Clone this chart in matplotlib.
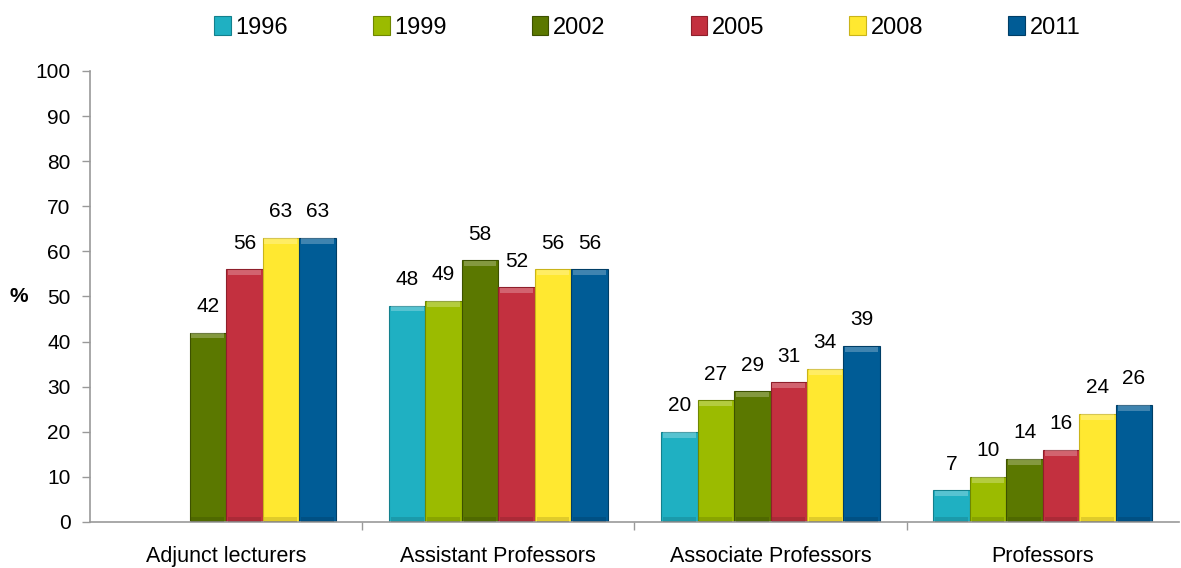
import matplotlib

matplotlib.use("Agg")
import matplotlib.pyplot as plt
import numpy as np
from matplotlib.patches import Patch

CATEGORIES = ["Adjunct lecturers", "Assistant Professors", "Associate Professors", "Professors"]
YEARS = ["1996", "1999", "2002", "2005", "2008", "2011"]
V1996 = [np.nan, 48, 20, 7]
V1999 = [np.nan, 49, 27, 10]
V2002 = [42, 58, 29, 14]
V2005 = [56, 52, 31, 16]
V2008 = [63, 56, 34, 24]
V2011 = [63, 56, 39, 26]
COLORS = ["#1fb0c2", "#9bbb00", "#5b7800", "#c3303f", "#ffe830", "#005c96"]
EDGES = ["#13808d", "#6f8700", "#3d5100", "#8e1f2b", "#c9b41a", "#003e66"]

plt.rcParams["font.family"] = ["Liberation Sans", "DejaVu Sans"]

series = [V1996, V1999, V2002, V2005, V2008, V2011]

fig = plt.figure(figsize=(11.81, 5.68), dpi=100)
ax = fig.add_axes([0.0762, 0.081, 0.922, 0.794])

x = np.arange(len(CATEGORIES))
width = 0.134
for i, (vals, col, ec) in enumerate(zip(series, COLORS, EDGES)):
    pos = x + (i - 2.5) * width
    vals = np.array(vals, dtype=float)
    bars = ax.bar(pos, vals, width, color=col, edgecolor=ec, linewidth=0.8, zorder=2)
    for b, v in zip(bars, vals):
        if np.isnan(v):
            continue
        cx = b.get_x() + b.get_width() / 2
        # light top cap and dark foot for a bevel look
        ax.bar(cx, 1.2, width * 0.9, bottom=v - 1.3, color="white", alpha=0.25,
               linewidth=0, zorder=3)
        ax.bar(cx, 1.0, width * 0.9, bottom=0.1, color="black", alpha=0.12,
               linewidth=0, zorder=3)
        ax.annotate(f"{v:.0f}", (cx, v), xytext=(0, 12), textcoords="offset points",
                    ha="center", va="bottom", fontsize=15)

ax.set_xlim(-0.5, 3.5)
ax.set_ylim(0, 100)
ax.set_yticks(np.arange(0, 101, 10))
ax.set_xticks([0.5, 1.5, 2.5])
ax.set_xticklabels([])
for xi, lab in zip(x, CATEGORIES):
    ax.text(xi, -7.6, lab, ha="center", va="center", fontsize=15.5)
ax.tick_params(axis="y", labelsize=15, color="#999999", length=6, width=1, pad=8)
ax.tick_params(axis="x", color="#999999", length=6, width=1)
for s in ["top", "right"]:
    ax.spines[s].set_visible(False)
for s in ["left", "bottom"]:
    ax.spines[s].set_color("#999999")
    ax.spines[s].set_linewidth(1.2)
ax.set_ylabel("%", rotation=0, fontsize=15, fontweight="bold", labelpad=12, va="center")

handles = [Patch(facecolor=c, edgecolor=e, linewidth=0.8) for c, e in zip(COLORS, EDGES)]
fig.legend(handles, YEARS, loc="upper center", bbox_to_anchor=(0.548, 1.01), ncol=6,
           frameon=False, fontsize=17, handlelength=0.7, handleheight=0.9,
           handletextpad=0.2, columnspacing=3.6)

fig.savefig("out.png", dpi=100)
